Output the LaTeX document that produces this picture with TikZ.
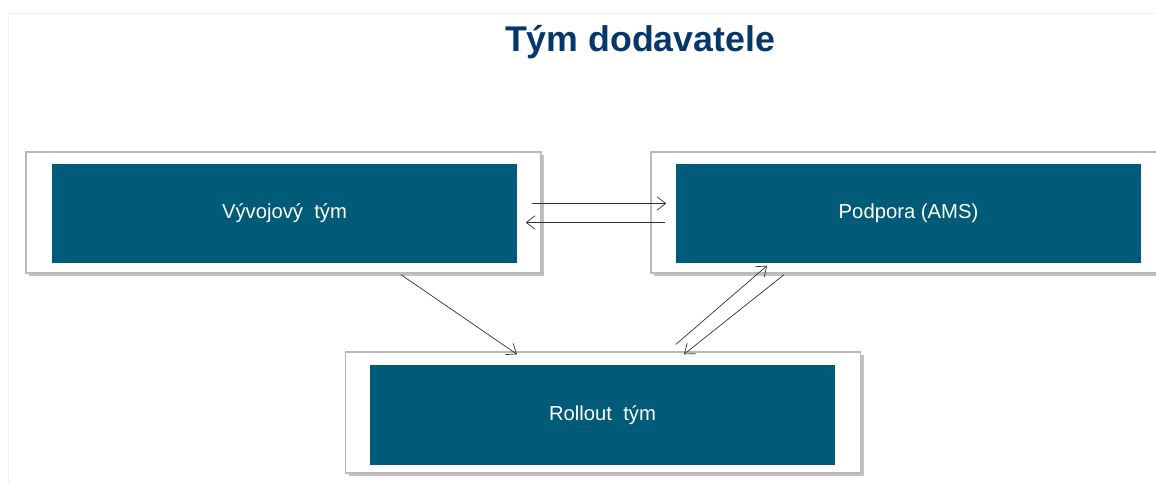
\documentclass[tikz,border=0pt]{standalone}
\usepackage{fontspec}
\setmainfont{Liberation Sans}
\usetikzlibrary{arrows.meta,calc,shadows}
\definecolor{teamfill}{RGB}{0,91,121}
\definecolor{titleblue}{RGB}{5,55,108}
\definecolor{panelgray}{RGB}{185,185,185}
\begin{document}
\begin{tikzpicture}[x=0.025cm, y=-0.025cm, every node/.style={font=\fontsize{14.4pt}{17pt}\selectfont}]
  \tikzstyle{panel}=[draw=panelgray,fill=white,line width=1pt,minimum width=12.875cm,minimum height=3.025cm,inner sep=0pt,
    drop shadow={shadow xshift=0.08cm,shadow yshift=-0.08cm,fill=black!40,opacity=0.6}]
  \tikzstyle{team}=[fill=teamfill,text=white,minimum width=11.625cm,minimum height=2.475cm,inner sep=0pt]
  \tikzstyle{flow}=[draw=black!80,line width=0.5pt,-{Straight Barb[length=2.2mm,width=3.4mm]}]
  \useasboundingbox (0,0) rectangle (1156,484);
  \begin{scope}
    \clip (0,0) rectangle (1156,484);
    \draw[black!6] (1160,13) -- (8,13) -- (8,490);
    \node[font=\fontsize{25.4pt}{30pt}\selectfont\bfseries,text=titleblue] (title) at (640,42) {Tým dodavatele};
    % panels
    \node[panel] (dev) at (283.5,212.5) {};
    \node[panel] (ams) at (908.5,212.5) {};
    \node[panel] (roll) at (603,412.5) {};
    \node[team] (devin) at (284.5,213.5) {Vývojový\ \ tým};
    \node[team] (amsin) at (908.5,213.5) {Podpora (AMS)};
    \node[team] (rollin) at (602.5,415) {Rollout\ \ tým};
    % connectors
    \draw[flow] ($(dev.east)+(-10,-9)$) -- ($(ams.west)+(16,-9)$);
    \draw[flow] ($(ams.west)+(15,10)$) -- ($(dev.east)+(-16,10)$);
    \draw[flow] ($(dev.south)+(117.5,1)$) -- ($(roll.north)+(-86,3)$);
    \draw[flow] ($(roll.north)+(73,-7)$) -- ($(ams.south)+(-141.5,-8)$);
    \draw[flow] ($(ams.south)+(-124.5,1)$) -- ($(roll.north)+(81,3)$);
  \end{scope}
\end{tikzpicture}
\end{document}
